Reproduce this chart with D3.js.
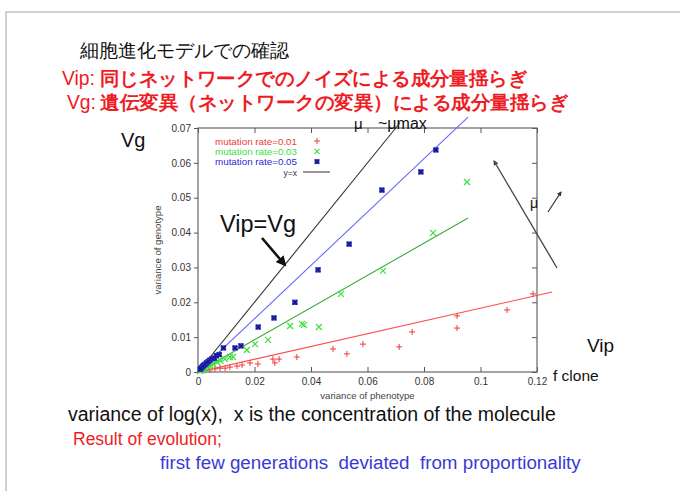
<!DOCTYPE html>
<html>
<head>
<meta charset="utf-8">
<script src="https://cdn.jsdelivr.net/npm/d3@7"></script>
<style>
  body { margin: 0; background: #fff; }
  svg { display: block; font-family: "Liberation Sans", Arial, sans-serif; }
  .tick text { font-size: 10px; fill: #333; }
  .tick line { stroke: #555; }
</style>
</head>
<body>
<div id="chart"></div>
<script>
// values
var xTicks = [0, 0.02, 0.04, 0.06, 0.08, 0.1, 0.12];
var yTicks = [0, 0.01, 0.02, 0.03, 0.04, 0.05, 0.06, 0.07];

var redX = [0.1186, 0.1094, 0.0917, 0.0917, 0.0758, 0.0712, 0.0584, 0.0527, 0.0478, 0.0350, 0.0287, 0.0265, 0.0272, 0.0212, 0.0184, 0.0156, 0.0138, 0.0113, 0.0096, 0.0078, 0.0060, 0.0042, 0.0025];
var redY = [0.0224, 0.0178, 0.0161, 0.0126, 0.0115, 0.0072, 0.0080, 0.0052, 0.0066, 0.0043, 0.0037, 0.0037, 0.0026, 0.0023, 0.0026, 0.0020, 0.0017, 0.0014, 0.0011, 0.0011, 0.0009, 0.0006, 0.0006];

var greenX = [0.0952, 0.0832, 0.0655, 0.0506, 0.0428, 0.0375, 0.0368, 0.0326, 0.0248, 0.0202, 0.0173, 0.0124, 0.0113, 0.0095, 0.0080, 0.0068, 0.0055, 0.0045, 0.0035, 0.0027, 0.0020, 0.0013, 0.0007];
var greenY = [0.0545, 0.0399, 0.0290, 0.0224, 0.0129, 0.0135, 0.0138, 0.0132, 0.0092, 0.0080, 0.0063, 0.0043, 0.0043, 0.0037, 0.0032, 0.0028, 0.0022, 0.0018, 0.0014, 0.0011, 0.0008, 0.0005, 0.0003];

var blueX = [0.0842, 0.0789, 0.0651, 0.0535, 0.0425, 0.0343, 0.0269, 0.0213, 0.0152, 0.0131, 0.0090, 0.0075, 0.0065, 0.0058, 0.0050, 0.0042, 0.0036, 0.0030, 0.0025, 0.0020, 0.0016, 0.0012, 0.0008];
var blueY = [0.0637, 0.0574, 0.0522, 0.0367, 0.0293, 0.0200, 0.0155, 0.0129, 0.0075, 0.0069, 0.0069, 0.0050, 0.0047, 0.0040, 0.0038, 0.0034, 0.0030, 0.0026, 0.0022, 0.0019, 0.0016, 0.0012, 0.0008];

var seriesNames = ["mutation rate=0.01", "mutation rate=0.03", "mutation rate=0.05"];
var seriesColors = ["#f03a3a", "#3ee03e", "#2a2ad8"];
var fitColors = ["#ff4a4a", "#3aaa3a", "#6a6af6"];
// proportional fit lines: slope and the x where each drawn line stops
var fitSlopes = [0.183, 0.462, 0.765];
var fitEndX = [0.1253, 0.0956, 0.0956];
var diagEndX = 0.0715;

var width = 680, height = 491;
var svg = d3.select("#chart").append("svg")
    .attr("width", width)
    .attr("height", height);

// slide frame
svg.append("path")
    .attr("d", "M6,491 V12 H680")
    .attr("fill", "none")
    .attr("stroke", "#c4c4c4")
    .attr("stroke-width", 1.6);

// header text
svg.append("text").attr("x", 80).attr("y", 57)
    .attr("font-size", 19).attr("fill", "#111")
    .text("細胞進化モデルでの確認");

svg.append("text").attr("x", 62).attr("y", 85)
    .attr("font-size", 19.3).attr("fill", "#ee1c24").text("Vip:");
svg.append("text").attr("x", 100).attr("y", 85)
    .attr("font-size", 19.3).attr("fill", "#ee1c24").attr("font-weight", "bold")
    .attr("textLength", 427).attr("lengthAdjust", "spacingAndGlyphs")
    .text("同じネットワークでのノイズによる成分量揺らぎ");

svg.append("text").attr("x", 67).attr("y", 109)
    .attr("font-size", 19.3).attr("fill", "#ee1c24").text("Vg:");
svg.append("text").attr("x", 100).attr("y", 109)
    .attr("font-size", 19.3).attr("fill", "#ee1c24").attr("font-weight", "bold")
    .attr("textLength", 468).attr("lengthAdjust", "spacingAndGlyphs")
    .text("遺伝変異（ネットワークの変異）による成分量揺らぎ");

// scales
var x = d3.scaleLinear().domain([0, 0.12]).range([198, 537]);
var y = d3.scaleLinear().domain([0, 0.07]).range([372, 128]);
var fmt = function(d){ return String(+d.toFixed(2)); };

// axes, gnuplot style
svg.append("g")
    .attr("transform", "translate(0," + y(0) + ")")
    .call(d3.axisBottom(x).tickValues(xTicks).tickSize(-5).tickPadding(6).tickFormat(fmt))
    .call(function(g){ g.select(".domain").remove(); });

svg.append("g")
    .attr("transform", "translate(0," + y(0.07) + ")")
    .call(d3.axisTop(x).tickValues(xTicks).tickSize(-5).tickFormat(""))
    .call(function(g){ g.select(".domain").remove(); });

svg.append("g")
    .attr("transform", "translate(" + x(0) + ",0)")
    .call(d3.axisLeft(y).tickValues(yTicks).tickSize(4).tickPadding(3).tickFormat(fmt))
    .call(function(g){ g.select(".domain").remove(); });

svg.append("g")
    .attr("transform", "translate(" + x(0.12) + ",0)")
    .call(d3.axisRight(y).tickValues(yTicks).tickSize(-5).tickFormat(""))
    .call(function(g){ g.select(".domain").remove(); });

svg.append("rect")
    .attr("x", x(0)).attr("y", y(0.07))
    .attr("width", x(0.12) - x(0)).attr("height", y(0) - y(0.07))
    .attr("fill", "none").attr("stroke", "#666").attr("stroke-width", 1.2);

svg.append("text")
    .attr("x", (x(0) + x(0.12)) / 2).attr("y", 399)
    .attr("text-anchor", "middle").attr("font-size", 9.6).attr("fill", "#444")
    .text("variance of phenotype");

svg.append("text")
    .attr("transform", "translate(161," + (y(0.035)) + ") rotate(-90)")
    .attr("text-anchor", "middle").attr("font-size", 9.6).attr("fill", "#444")
    .text("variance of genotype");

// y = x line
svg.append("line")
    .attr("x1", x(0)).attr("y1", y(0))
    .attr("x2", x(diagEndX)).attr("y2", y(diagEndX))
    .attr("stroke", "#333").attr("stroke-width", 1.1);

// fit lines
fitSlopes.forEach(function(s, i){
    svg.append("line")
        .attr("x1", x(0)).attr("y1", y(0))
        .attr("x2", x(fitEndX[i])).attr("y2", y(s * fitEndX[i]))
        .attr("stroke", fitColors[i]).attr("stroke-width", 1.1);
});

// points
function plus(g, cx, cy, r, c){
    g.append("path")
        .attr("d", "M" + (cx - r) + "," + cy + "H" + (cx + r) + "M" + cx + "," + (cy - r) + "V" + (cy + r))
        .attr("stroke", c).attr("stroke-width", 1).attr("fill", "none");
}
function cross(g, cx, cy, r, c){
    g.append("path")
        .attr("d", "M" + (cx - r) + "," + (cy - r) + "L" + (cx + r) + "," + (cy + r) +
                   "M" + (cx - r) + "," + (cy + r) + "L" + (cx + r) + "," + (cy - r))
        .attr("stroke", c).attr("stroke-width", 1.2).attr("fill", "none");
}
function star(g, cx, cy, r, c){
    g.append("rect")
        .attr("x", cx - r).attr("y", cy - r).attr("width", 2 * r).attr("height", 2 * r)
        .attr("fill", c).attr("opacity", 0.9);
    cross(g, cx, cy, r - 0.5, "#101070");
}

var pts = svg.append("g");
redX.forEach(function(v, i){ plus(pts, x(v), y(redY[i]), 3, seriesColors[0]); });
greenX.forEach(function(v, i){ cross(pts, x(v), y(greenY[i]), 3, seriesColors[1]); });
blueX.forEach(function(v, i){ star(pts, x(v), y(blueY[i]), 2.7, seriesColors[2]); });

// legend
var legend = svg.append("g").attr("font-size", 9.8);
seriesNames.forEach(function(n, i){
    var ly = 144.5 + i * 10.3;
    legend.append("text").attr("x", 297).attr("y", ly)
        .attr("text-anchor", "end").attr("fill", seriesColors[i]).text(n);
    if (i == 0) plus(legend, 317, ly - 3.5, 3, seriesColors[0]);
    if (i == 1) cross(legend, 317, ly - 3.5, 2.5, seriesColors[1]);
    if (i == 2) star(legend, 317, ly - 3.5, 2.5, seriesColors[2]);
});
legend.append("text").attr("x", 297).attr("y", 175.5)
    .attr("text-anchor", "end").attr("fill", "#333").attr("font-size", 8.5).text("y=x");
legend.append("line").attr("x1", 303).attr("x2", 330).attr("y1", 172).attr("y2", 172)
    .attr("stroke", "#333").attr("stroke-width", 1);

// annotations
svg.append("defs").append("marker")
    .attr("id", "head").attr("viewBox", "0 0 10 10").attr("refX", 8).attr("refY", 5)
    .attr("markerWidth", 4).attr("markerHeight", 4).attr("orient", "auto")
  .append("path").attr("d", "M0,0L10,5L0,10z").attr("fill", "context-stroke");

svg.append("text").attr("x", 121).attr("y", 147).attr("font-size", 20).attr("fill", "#111").text("Vg");
svg.append("text").attr("x", 220).attr("y", 232).attr("font-size", 23.5).attr("fill", "#111").text("Vip=Vg");
svg.append("line").attr("x1", 262).attr("y1", 238).attr("x2", 285).attr("y2", 265)
    .attr("stroke", "#111").attr("stroke-width", 2.6).attr("marker-end", "url(#head)");

svg.append("text").attr("x", 354).attr("y", 129).attr("font-size", 15).attr("fill", "#111").text("μ");
svg.append("text").attr("x", 378).attr("y", 129).attr("font-size", 16).attr("fill", "#111").text("~μmax");

svg.append("line").attr("x1", 557).attr("y1", 268).attr("x2", 494).attr("y2", 161)
    .attr("stroke", "#444").attr("stroke-width", 1.3).attr("marker-end", "url(#head)");
svg.append("text").attr("x", 530).attr("y", 208).attr("font-size", 14).attr("fill", "#111").text("μ");
svg.append("line").attr("x1", 548).attr("y1", 212).attr("x2", 561).attr("y2", 192)
    .attr("stroke", "#333").attr("stroke-width", 1.2).attr("marker-end", "url(#head)");

svg.append("text").attr("x", 587).attr("y", 352).attr("font-size", 19).attr("fill", "#111").text("Vip");
svg.append("text").attr("x", 553).attr("y", 381).attr("font-size", 15.5).attr("fill", "#111").text("f clone");

// footer text
svg.append("text").attr("x", 68).attr("y", 421).attr("font-size", 19.5).attr("fill", "#111")
    .attr("xml:space", "preserve")
    .text("variance of log(x),  x is the concentration of the molecule");
svg.append("text").attr("x", 73).attr("y", 445).attr("font-size", 17.5).attr("fill", "#ee1c24")
    .text("Result of evolution;");
svg.append("text").attr("x", 160).attr("y", 469).attr("font-size", 18.8).attr("fill", "#3a3ad6")
    .attr("xml:space", "preserve")
    .text("first few generations  deviated  from proportionality");
</script>
</body>
</html>
